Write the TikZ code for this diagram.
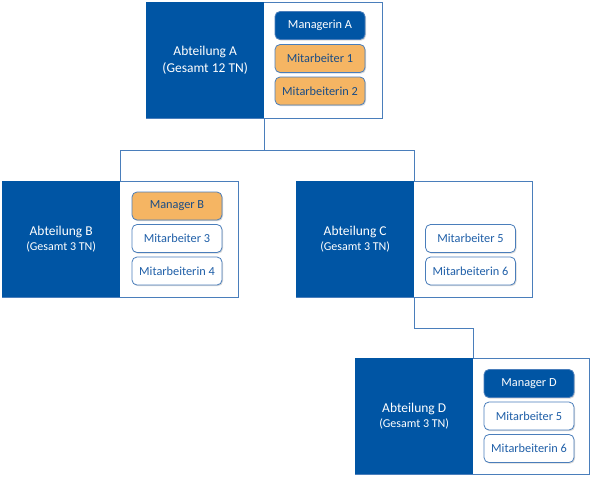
\documentclass[tikz,border=0pt]{standalone}
\usepackage{fontspec}
\setmainfont{Carlito}
\usetikzlibrary{shadows}
\definecolor{dblue}{HTML}{0055A4}
\definecolor{lblue}{HTML}{4A7EBB}
\definecolor{tblue}{HTML}{1F5FA8}
\definecolor{orng}{HTML}{F5B563}
\tikzset{
  x=1pt,y=-1pt,
  outerbox/.style={draw=lblue, line width=0.9pt, fill=white, anchor=north west, minimum height=116pt, inner sep=0pt,
    drop shadow={shadow xshift=1pt, shadow yshift=-1pt, opacity=0.25}},
  deptbox/.style={fill=dblue, draw=none, anchor=north west, minimum width=118pt, minimum height=116pt, text=white, align=center, inner sep=0pt, font=\fontsize{13.5}{17}\selectfont},
  person/.style={draw=lblue, line width=0.8pt, rounded corners=5pt, minimum width=90pt, minimum height=28pt, inner sep=0pt,
    font=\fontsize{12.3}{14}\selectfont, drop shadow={shadow xshift=1pt, shadow yshift=-1.2pt, opacity=0.3}},
  whiteperson/.style={person, fill=white, text=tblue},
  orangeperson/.style={person, fill=orng, text=tblue!80!black},
  darkperson/.style={person, fill=dblue, text=white},
  conn/.style={draw=lblue, line width=0.9pt}
}
\newcommand{\gesamtsize}{\fontsize{12}{15}\selectfont}
\begin{document}
\begin{tikzpicture}
\useasboundingbox (0,0) rectangle (591,479);
% Department A
\node[outerbox, minimum width=236pt] (Aw) at (146,2) {};
\node[deptbox] (Ad) at (146,2) {Abteilung A\\(Gesamt 12 TN)};
\node[darkperson] (A1) at (320,25.5) {Managerin A};
\node[orangeperson] (A2) at (320,58.5) {Mitarbeiter 1};
\node[orangeperson] (A3) at (320,91) {Mitarbeiterin 2};
% Department B
\node[outerbox, minimum width=236pt] (Bw) at (2,181) {};
\node[deptbox] (Bd) at (2,181) {Abteilung B\\[-2pt]{\gesamtsize (Gesamt 3 TN)}};
\node[orangeperson] (B1) at (177,206) {Manager B};
\node[whiteperson] (B2) at (177,238.5) {Mitarbeiter 3};
\node[whiteperson] (B3) at (177,271) {Mitarbeiterin 4};
% Department C
\node[outerbox, minimum width=236pt] (Cw) at (296,181) {};
\node[deptbox] (Cd) at (296,181) {Abteilung C\\[-2pt]{\gesamtsize (Gesamt 3 TN)}};
\node[whiteperson] (C1) at (470.5,238.5) {Mitarbeiter 5};
\node[whiteperson] (C2) at (470.5,271) {Mitarbeiterin 6};
% Department D
\node[outerbox, minimum width=234pt] (Dw) at (355,358) {};
\node[deptbox] (Dd) at (355,358) {Abteilung D\\[-2pt]{\gesamtsize (Gesamt 3 TN)}};
\node[darkperson] (D1) at (529,383.5) {Manager D};
\node[whiteperson] (D2) at (529,416) {Mitarbeiter 5};
\node[whiteperson] (D3) at (529,448.5) {Mitarbeiterin 6};
% connectors
\draw[conn] (Ad.south east) -- ++(0,32) -| (Bd.north east);
\draw[conn] (Ad.south east) -- ++(0,32) -| (Cd.north east);
\draw[conn] (Cd.south east) -- ++(0,31) -| (Dd.north east);
\end{tikzpicture}
\end{document}
